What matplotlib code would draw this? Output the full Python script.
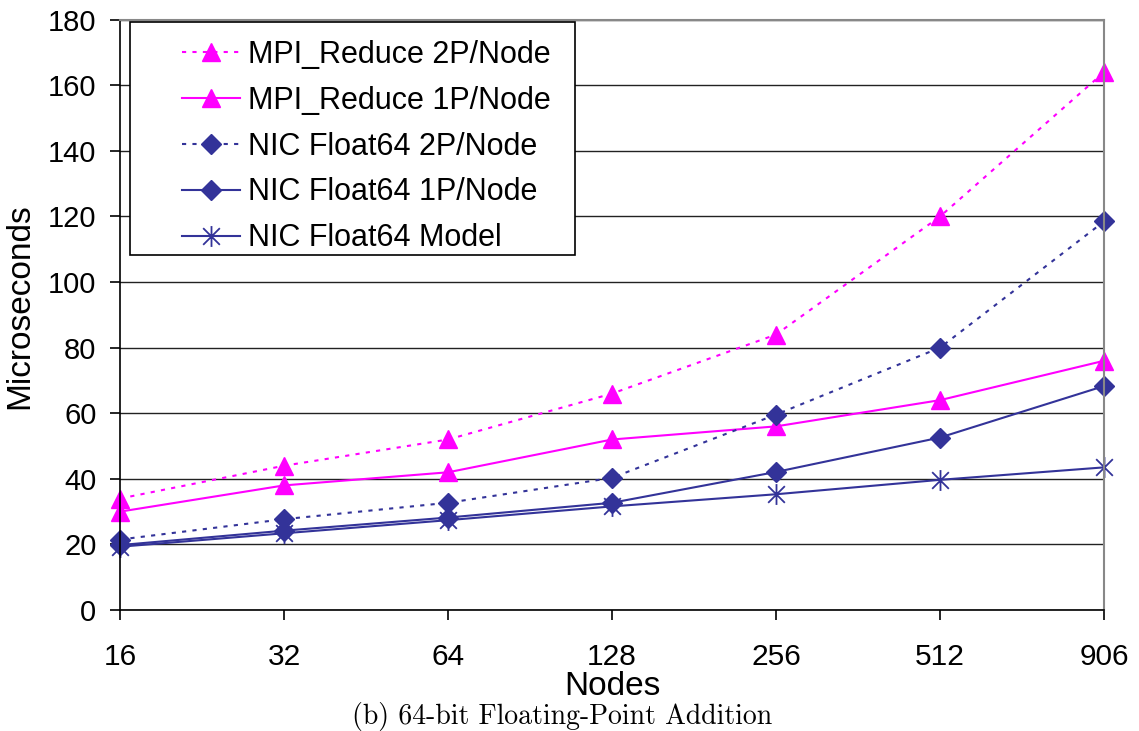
import numpy as np
import matplotlib
matplotlib.use('Agg')
import matplotlib.pyplot as plt
from matplotlib.patches import Rectangle
from matplotlib.path import Path

# data
nodes = ['16', '32', '64', '128', '256', '512', '906']
mpi_2p = [34, 44, 52, 66, 84, 120, 164]
mpi_1p = [30, 38, 42, 52, 56, 64, 76]
nic_2p = [21.5, 27.7, 32.7, 40.3, 59.6, 80, 118.5]
nic_1p = [19.8, 24.2, 28.2, 32.7, 42.1, 52.6, 68.3]
nic_model = [19.3, 23.4, 27.4, 31.6, 35.3, 39.7, 43.5]

magenta = '#FF00FF'
navy = '#333399'

# excel style star: vertical bar plus an X
star = Path([(0, -1), (0, 1), (-0.8, -0.8), (0.8, 0.8), (-0.8, 0.8), (0.8, -0.8)],
            [Path.MOVETO, Path.LINETO] * 3)

plt.rcParams['font.family'] = ['Liberation Sans', 'DejaVu Sans']

fig = plt.figure(figsize=(11.39, 7.31), dpi=100)
ax = fig.add_axes([0.1054, 0.1655, 0.8639, 0.8075])

x = np.arange(len(nodes))
dotted = (0, (2, 3))
lines = []
lines += ax.plot(x, mpi_2p, color=magenta, linestyle=dotted, lw=1.5, marker='^', ms=13,
                 label='MPI_Reduce 2P/Node')
lines += ax.plot(x, mpi_1p, color=magenta, linestyle='-', lw=1.5, marker='^', ms=13,
                 label='MPI_Reduce 1P/Node')
lines += ax.plot(x, nic_2p, color=navy, linestyle=dotted, lw=1.5, marker='D', ms=10,
                 label='NIC Float64 2P/Node')
lines += ax.plot(x, nic_1p, color=navy, linestyle='-', lw=1.5, marker='D', ms=10,
                 label='NIC Float64 1P/Node')
lines += ax.plot(x, nic_model, color=navy, linestyle='-', lw=1.5, marker=star, ms=15,
                 mew=1.3, label='NIC Float64 Model')
for l in lines:
    l.set_clip_on(False)

ax.set_xlim(0, len(nodes) - 1)
ax.set_ylim(0, 180)
ax.set_xticks(x)
ax.set_xticklabels(nodes)
ax.set_yticks(np.arange(0, 181, 20))
ax.yaxis.grid(True, color='#222222', lw=1)
ax.set_axisbelow(True)
ax.tick_params(axis='x', labelsize=21.5, length=7, width=1.2, direction='out', pad=17)
ax.tick_params(axis='y', labelsize=21, length=7, width=1.2, direction='out', pad=10)
for s in ['top', 'right']:
    ax.spines[s].set_color('#888888')
    ax.spines[s].set_linewidth(1.5)
for s in ['left', 'bottom']:
    ax.spines[s].set_linewidth(1.2)

ax.set_ylabel('Microseconds', fontsize=24)
ax.yaxis.set_label_coords(-0.086, 0.515)
ax.set_xlabel('Nodes', fontsize=24, labelpad=0)

# legend frame drawn separately so the handles can sit inset like in excel
ax.add_patch(Rectangle((0.0102, 0.6017), 0.452, 0.395, transform=ax.transAxes,
                       facecolor='white', edgecolor='black', lw=1.2, zorder=4,
                       clip_on=False))
leg = ax.legend(loc='upper left', bbox_to_anchor=(0.063, 0.966), fontsize=22,
                frameon=False, borderpad=0, borderaxespad=0, labelspacing=0.52,
                handlelength=1.9, handletextpad=0.25)
leg.set_zorder(5)

fig.text(0.4934, 0.0205, '(b) 64-bit Floating-Point Addition', ha='center', va='center',
         fontsize=20, family=['cmr10', 'DejaVu Serif'])

fig.savefig('out.png', dpi=100)
